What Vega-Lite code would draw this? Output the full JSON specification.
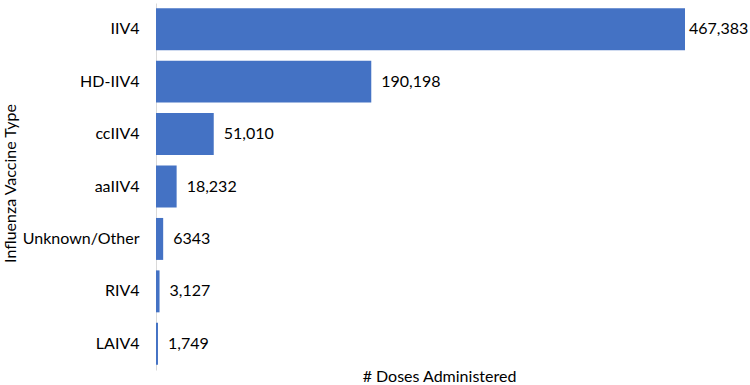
{
  "$schema": "https://vega.github.io/schema/vega-lite/v6.json",
  "width": 529,
  "height": 367,
  "autosize": {"type": "none"},
  "padding": {"left": 156, "top": 3, "right": 65, "bottom": 15},
  "background": "white",
  "config": {"view": {"stroke": null}, "font": "Lato"},
  "data": {"values": [
    {"type": "IIV4", "doses": 467383, "label": "467,383"},
    {"type": "HD-IIV4", "doses": 190198, "label": "190,198"},
    {"type": "ccIIV4", "doses": 51010, "label": "51,010"},
    {"type": "aaIIV4", "doses": 18232, "label": "18,232"},
    {"type": "Unknown/Other", "doses": 6343, "label": "6343"},
    {"type": "RIV4", "doses": 3127, "label": "3,127"},
    {"type": "LAIV4", "doses": 1749, "label": "1,749"}
  ]},
  "encoding": {
    "y": {"field": "type", "type": "nominal", "sort": null,
      "scale": {"paddingInner": 0.2, "paddingOuter": 0.1},
      "axis": {"title": "Influenza Vaccine Type", "titleFont": "Lato", "titleFontSize": 16, "titleFontWeight": "normal", "titleColor": "#000",
        "titleAngle": -90, "titleAlign": "center", "titleBaseline": "middle", "titleX": -146, "titleY": 180,
        "labelFont": "Lato", "labelFontSize": 16, "labelColor": "#000", "labelPadding": 17, "ticks": false,
        "domainColor": "#d9d9d9", "domainWidth": 1}},
    "x": {"field": "doses", "type": "quantitative",
      "scale": {"domain": [0, 467383], "nice": false},
      "axis": {"title": "# Doses Administered", "titleFont": "Lato", "titleFontSize": 16, "titleFontWeight": "normal", "titleColor": "#000",
        "titleX": 283, "titleY": 6, "titleBaseline": "middle", "titleAlign": "center",
        "labels": false, "ticks": false, "domain": false, "grid": false}}
  },
  "layer": [
    {"mark": {"type": "bar", "color": "#4472C4"}},
    {"transform": [{"filter": "datum.doses < 400000"}],
     "mark": {"type": "text", "align": "left", "baseline": "middle", "dx": 10, "fontSize": 16, "font": "Lato", "color": "#000"},
     "encoding": {"text": {"field": "label"}}},
    {"transform": [{"filter": "datum.doses >= 400000"}],
     "mark": {"type": "text", "align": "left", "baseline": "middle", "dx": 4, "fontSize": 16, "font": "Lato", "color": "#000"},
     "encoding": {"text": {"field": "label"}}}
  ]
}
